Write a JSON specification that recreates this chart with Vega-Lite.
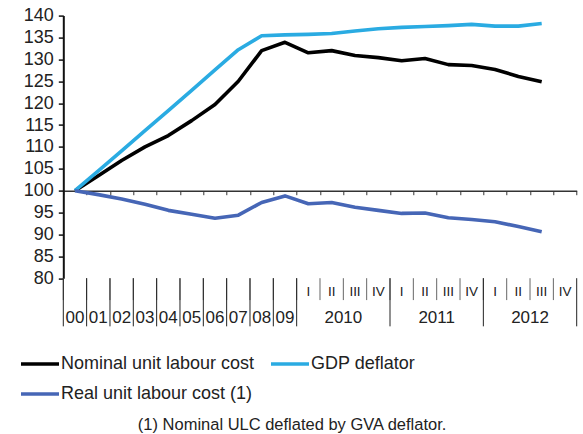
{
  "$schema": "https://vega.github.io/schema/vega-lite/v6.json",
  "autosize": "none",
  "padding": {"left": 63.3, "top": 15.6, "right": 6.3, "bottom": 155.9},
  "width": 513.4,
  "height": 262.6,
  "background": "white",
  "config": {"font": "Liberation Sans", "view": {"stroke": null}, "axis": {"grid": false}},
  "title": {"text": "(1) Nominal ULC deflated by GVA deflator.", "orient": "bottom", "fontSize": 16.5, "fontWeight": "normal", "color": "#222", "offset": 14, "anchor": "middle", "frame": "bounds", "dx": -6},
  "datasets": {
    "main": [
      {"cat": "00", "series": "Nominal unit labour cost", "value": 100},
      {"cat": "01", "series": "Nominal unit labour cost", "value": 103.4},
      {"cat": "02", "series": "Nominal unit labour cost", "value": 106.9},
      {"cat": "03", "series": "Nominal unit labour cost", "value": 110.0},
      {"cat": "04", "series": "Nominal unit labour cost", "value": 112.6},
      {"cat": "05", "series": "Nominal unit labour cost", "value": 116.0},
      {"cat": "06", "series": "Nominal unit labour cost", "value": 119.7},
      {"cat": "07", "series": "Nominal unit labour cost", "value": 125.0},
      {"cat": "08", "series": "Nominal unit labour cost", "value": 132.0},
      {"cat": "09", "series": "Nominal unit labour cost", "value": 133.9},
      {"cat": "2010 I", "series": "Nominal unit labour cost", "value": 131.5},
      {"cat": "2010 II", "series": "Nominal unit labour cost", "value": 132.0},
      {"cat": "2010 III", "series": "Nominal unit labour cost", "value": 130.9},
      {"cat": "2010 IV", "series": "Nominal unit labour cost", "value": 130.4},
      {"cat": "2011 I", "series": "Nominal unit labour cost", "value": 129.7},
      {"cat": "2011 II", "series": "Nominal unit labour cost", "value": 130.2},
      {"cat": "2011 III", "series": "Nominal unit labour cost", "value": 128.8},
      {"cat": "2011 IV", "series": "Nominal unit labour cost", "value": 128.6},
      {"cat": "2012 I", "series": "Nominal unit labour cost", "value": 127.7},
      {"cat": "2012 II", "series": "Nominal unit labour cost", "value": 126.1},
      {"cat": "2012 III", "series": "Nominal unit labour cost", "value": 124.9},
      {"cat": "00", "series": "GDP deflator", "value": 100},
      {"cat": "01", "series": "GDP deflator", "value": 104.5},
      {"cat": "02", "series": "GDP deflator", "value": 109.1},
      {"cat": "03", "series": "GDP deflator", "value": 113.7},
      {"cat": "04", "series": "GDP deflator", "value": 118.3},
      {"cat": "05", "series": "GDP deflator", "value": 122.9},
      {"cat": "06", "series": "GDP deflator", "value": 127.6},
      {"cat": "07", "series": "GDP deflator", "value": 132.2},
      {"cat": "08", "series": "GDP deflator", "value": 135.4},
      {"cat": "09", "series": "GDP deflator", "value": 135.6},
      {"cat": "2010 I", "series": "GDP deflator", "value": 135.7},
      {"cat": "2010 II", "series": "GDP deflator", "value": 135.9},
      {"cat": "2010 III", "series": "GDP deflator", "value": 136.5},
      {"cat": "2010 IV", "series": "GDP deflator", "value": 137.0},
      {"cat": "2011 I", "series": "GDP deflator", "value": 137.3},
      {"cat": "2011 II", "series": "GDP deflator", "value": 137.5},
      {"cat": "2011 III", "series": "GDP deflator", "value": 137.7},
      {"cat": "2011 IV", "series": "GDP deflator", "value": 138.0},
      {"cat": "2012 I", "series": "GDP deflator", "value": 137.6},
      {"cat": "2012 II", "series": "GDP deflator", "value": 137.6},
      {"cat": "2012 III", "series": "GDP deflator", "value": 138.2},
      {"cat": "00", "series": "Real unit labour cost (1)", "value": 100},
      {"cat": "01", "series": "Real unit labour cost (1)", "value": 99.1},
      {"cat": "02", "series": "Real unit labour cost (1)", "value": 98.1},
      {"cat": "03", "series": "Real unit labour cost (1)", "value": 96.9},
      {"cat": "04", "series": "Real unit labour cost (1)", "value": 95.5},
      {"cat": "05", "series": "Real unit labour cost (1)", "value": 94.6},
      {"cat": "06", "series": "Real unit labour cost (1)", "value": 93.7},
      {"cat": "07", "series": "Real unit labour cost (1)", "value": 94.4},
      {"cat": "08", "series": "Real unit labour cost (1)", "value": 97.3},
      {"cat": "09", "series": "Real unit labour cost (1)", "value": 98.8},
      {"cat": "2010 I", "series": "Real unit labour cost (1)", "value": 97.0},
      {"cat": "2010 II", "series": "Real unit labour cost (1)", "value": 97.3},
      {"cat": "2010 III", "series": "Real unit labour cost (1)", "value": 96.2},
      {"cat": "2010 IV", "series": "Real unit labour cost (1)", "value": 95.5},
      {"cat": "2011 I", "series": "Real unit labour cost (1)", "value": 94.8},
      {"cat": "2011 II", "series": "Real unit labour cost (1)", "value": 94.9},
      {"cat": "2011 III", "series": "Real unit labour cost (1)", "value": 93.8},
      {"cat": "2011 IV", "series": "Real unit labour cost (1)", "value": 93.4},
      {"cat": "2012 I", "series": "Real unit labour cost (1)", "value": 92.9},
      {"cat": "2012 II", "series": "Real unit labour cost (1)", "value": 91.8},
      {"cat": "2012 III", "series": "Real unit labour cost (1)", "value": 90.6}
    ],
    "cats": [
      {"cat": "00", "kind": "annual", "q": "", "yr": "00"},
      {"cat": "01", "kind": "annual", "q": "", "yr": "01"},
      {"cat": "02", "kind": "annual", "q": "", "yr": "02"},
      {"cat": "03", "kind": "annual", "q": "", "yr": "03"},
      {"cat": "04", "kind": "annual", "q": "", "yr": "04"},
      {"cat": "05", "kind": "annual", "q": "", "yr": "05"},
      {"cat": "06", "kind": "annual", "q": "", "yr": "06"},
      {"cat": "07", "kind": "annual", "q": "", "yr": "07"},
      {"cat": "08", "kind": "annual", "q": "", "yr": "08"},
      {"cat": "09", "kind": "annual", "q": "", "yr": "09"},
      {"cat": "2010 I", "kind": "quarter", "q": "I", "yr": "2010"},
      {"cat": "2010 II", "kind": "quarter", "q": "II", "yr": "2010"},
      {"cat": "2010 III", "kind": "quarter", "q": "III", "yr": "2010"},
      {"cat": "2010 IV", "kind": "quarter", "q": "IV", "yr": "2010"},
      {"cat": "2011 I", "kind": "quarter", "q": "I", "yr": "2011"},
      {"cat": "2011 II", "kind": "quarter", "q": "II", "yr": "2011"},
      {"cat": "2011 III", "kind": "quarter", "q": "III", "yr": "2011"},
      {"cat": "2011 IV", "kind": "quarter", "q": "IV", "yr": "2011"},
      {"cat": "2012 I", "kind": "quarter", "q": "I", "yr": "2012"},
      {"cat": "2012 II", "kind": "quarter", "q": "II", "yr": "2012"},
      {"cat": "2012 III", "kind": "quarter", "q": "III", "yr": "2012"},
      {"cat": "2012 IV", "kind": "quarter", "q": "IV", "yr": "2012"}
    ]
  },
  "layer": [
    {
      "data": {"name": "main"},
      "mark": {"type": "line", "strokeWidth": 3.6, "strokeJoin": "round"},
      "encoding": {
        "x": {
          "field": "cat", "type": "ordinal",
          "scale": {"type": "band", "paddingInner": 0, "paddingOuter": 0, "domain": ["00","01","02","03","04","05","06","07","08","09","2010 I","2010 II","2010 III","2010 IV","2011 I","2011 II","2011 III","2011 IV","2012 I","2012 II","2012 III","2012 IV"]},
          "axis": {"orient": "bottom", "offset": -87.5, "title": null, "labels": false, "domainColor": "#333", "domainWidth": 1.5, "tickColor": "#333", "tickWidth": 1, "tickSize": 4, "tickBand": "extent"}
        },
        "y": {
          "field": "value", "type": "quantitative",
          "scale": {"domain": [80, 140], "nice": false, "zero": false},
          "axis": {"title": null, "values": [80,85,90,95,100,105,110,115,120,125,130,135,140], "labelOverlap": false, "domainColor": "#111", "domainWidth": 2, "tickColor": "#111", "tickWidth": 1.5, "tickSize": 5, "labelPadding": 5, "labelFontSize": 18, "labelColor": "#222"}
        },
        "color": {
          "field": "series", "type": "nominal",
          "scale": {"domain": ["Nominal unit labour cost", "GDP deflator", "Real unit labour cost (1)"], "range": ["#000000", "#2AABE2", "#4666B6"]},
          "legend": {"title": null, "orient": "none", "legendX": -44.3, "legendY": 327.4, "direction": "horizontal", "columns": 2, "symbolType": "stroke", "symbolSize": 1444, "symbolStrokeWidth": 3.5, "labelFontSize": 18, "labelColor": "#222", "labelOffset": 0, "columnPadding": 9, "rowPadding": 0, "labelLimit": 400}
        }
      }
    },
    {
      "data": {"name": "cats"},
      "mark": {"type": "rule", "color": "#666", "strokeWidth": 1},
      "encoding": {
        "x": {"field": "cat", "type": "ordinal", "bandPosition": 0},
        "y": {"datum": 80, "type": "quantitative", "axis": {"title": null, "values": [80,85,90,95,100,105,110,115,120,125,130,135,140], "labelOverlap": false, "domainColor": "#111", "domainWidth": 2, "tickColor": "#111", "tickWidth": 1.5, "tickSize": 5, "labelPadding": 5, "labelFontSize": 18, "labelColor": "#222"}},
        "y2": {"datum": 75}
      }
    },
    {
      "data": {"name": "cats"},
      "transform": [{"filter": "datum.kind == 'annual' || datum.q == 'I'"}],
      "mark": {"type": "rule", "color": "#222", "strokeWidth": 1},
      "encoding": {
        "x": {"field": "cat", "type": "ordinal", "bandPosition": 0},
        "y": {"datum": 80, "type": "quantitative", "axis": {"title": null, "values": [80,85,90,95,100,105,110,115,120,125,130,135,140], "labelOverlap": false, "domainColor": "#111", "domainWidth": 2, "tickColor": "#111", "tickWidth": 1.5, "tickSize": 5, "labelPadding": 5, "labelFontSize": 18, "labelColor": "#222"}},
        "y2": {"datum": 69}
      }
    },
    {
      "data": {"name": "cats"},
      "transform": [{"filter": "datum.cat == '2012 IV'"}],
      "mark": {"type": "rule", "color": "#222", "strokeWidth": 1},
      "encoding": {
        "x": {"field": "cat", "type": "ordinal", "bandPosition": 1},
        "y": {"datum": 80, "type": "quantitative", "axis": {"title": null, "values": [80,85,90,95,100,105,110,115,120,125,130,135,140], "labelOverlap": false, "domainColor": "#111", "domainWidth": 2, "tickColor": "#111", "tickWidth": 1.5, "tickSize": 5, "labelPadding": 5, "labelFontSize": 18, "labelColor": "#222"}},
        "y2": {"datum": 69}
      }
    },
    {
      "data": {"name": "cats"},
      "transform": [{"filter": "datum.kind == 'quarter'"}],
      "mark": {"type": "text", "fontSize": 13.5, "color": "#222", "baseline": "middle", "align": "center"},
      "encoding": {
        "x": {"field": "cat", "type": "ordinal"},
        "y": {"datum": 76.85, "type": "quantitative", "axis": {"title": null, "values": [80,85,90,95,100,105,110,115,120,125,130,135,140], "labelOverlap": false, "domainColor": "#111", "domainWidth": 2, "tickColor": "#111", "tickWidth": 1.5, "tickSize": 5, "labelPadding": 5, "labelFontSize": 18, "labelColor": "#222"}},
        "text": {"field": "q"}
      }
    },
    {
      "data": {"name": "cats"},
      "transform": [{"filter": "datum.kind == 'annual'"}],
      "mark": {"type": "text", "fontSize": 17, "color": "#222", "baseline": "middle", "align": "center"},
      "encoding": {
        "x": {"field": "cat", "type": "ordinal"},
        "y": {"datum": 70.9, "type": "quantitative", "axis": {"title": null, "values": [80,85,90,95,100,105,110,115,120,125,130,135,140], "labelOverlap": false, "domainColor": "#111", "domainWidth": 2, "tickColor": "#111", "tickWidth": 1.5, "tickSize": 5, "labelPadding": 5, "labelFontSize": 18, "labelColor": "#222"}},
        "text": {"field": "yr"}
      }
    },
    {
      "data": {"name": "cats"},
      "transform": [{"filter": "datum.q == 'II'"}],
      "mark": {"type": "text", "fontSize": 17, "color": "#222", "baseline": "middle", "align": "center", "dx": 11.67},
      "encoding": {
        "x": {"field": "cat", "type": "ordinal"},
        "y": {"datum": 70.9, "type": "quantitative", "axis": {"title": null, "values": [80,85,90,95,100,105,110,115,120,125,130,135,140], "labelOverlap": false, "domainColor": "#111", "domainWidth": 2, "tickColor": "#111", "tickWidth": 1.5, "tickSize": 5, "labelPadding": 5, "labelFontSize": 18, "labelColor": "#222"}},
        "text": {"field": "yr"}
      }
    }
  ]
}
